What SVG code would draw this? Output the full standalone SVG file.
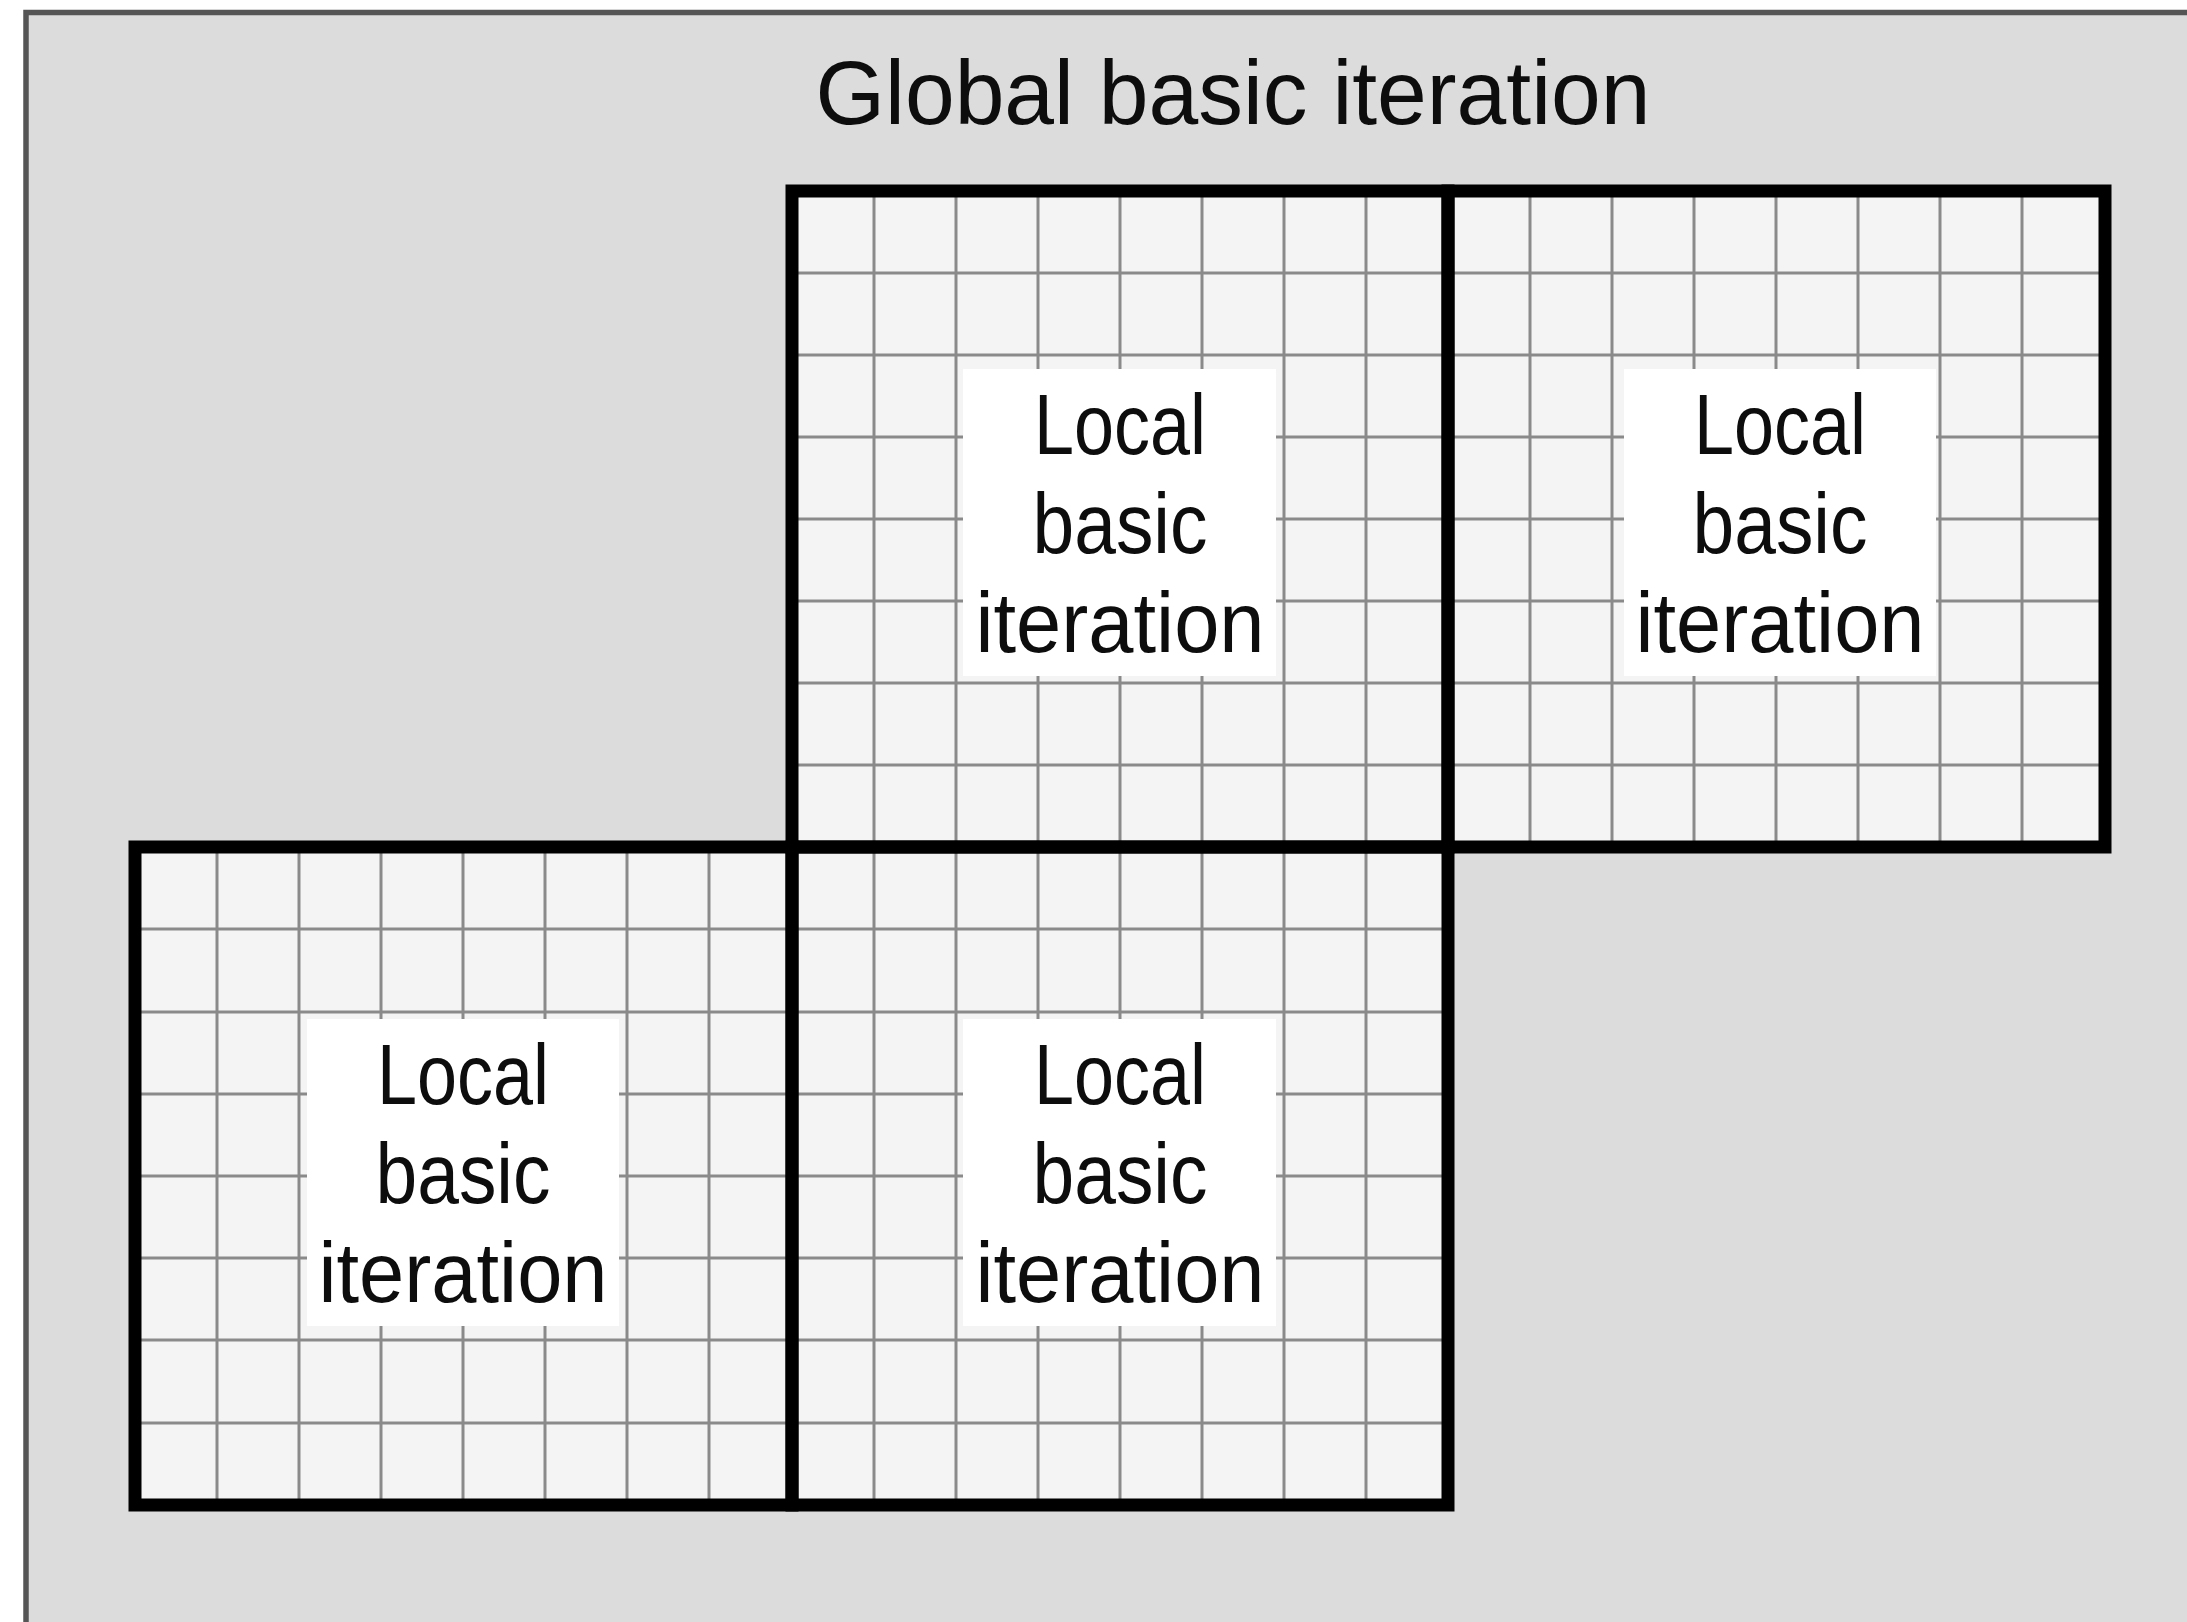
<svg xmlns="http://www.w3.org/2000/svg" width="2187" height="1622" viewBox="0 0 2187 1622">
  <style>
    .frame { fill: #dcdcdc; stroke: #555555; stroke-width: 5.5; }
    .title { font-family: "Liberation Sans", Arial, sans-serif; font-size: 91px; fill: #0d0d0d; text-anchor: middle; }
    .cell { fill: #f4f4f4; }
    .grid { fill: none; stroke: #8a8a8a; stroke-width: 3; }
    .border { fill: none; stroke: #000000; stroke-width: 13; stroke-linejoin: miter; }
    .lbox { fill: #ffffff; }
    .label { font-family: "Liberation Sans", Arial, sans-serif; font-size: 85px; fill: #0d0d0d; text-anchor: middle; }
  </style>

  <rect class="frame" x="26" y="12.5" width="2200" height="1650"/>
  <text id="title" class="title" x="1233" y="124" textLength="835" lengthAdjust="spacingAndGlyphs">Global basic iteration</text>

  <g id="block-top-middle">
    <rect class="cell" x="792" y="191" width="656" height="656"/>
    <path class="grid" d="M874 191V847M956 191V847M1038 191V847M1120 191V847M1202 191V847M1284 191V847M1366 191V847M792 273H1448M792 355H1448M792 437H1448M792 519H1448M792 601H1448M792 683H1448M792 765H1448"/>
    <rect class="lbox" x="963" y="369" width="313" height="307"/>
    <text class="label" x="1120" y="454" textLength="172" lengthAdjust="spacingAndGlyphs">Local</text>
    <text class="label" x="1120" y="553" textLength="175" lengthAdjust="spacingAndGlyphs">basic</text>
    <text class="label" x="1120" y="652" textLength="289" lengthAdjust="spacingAndGlyphs">iteration</text>
  </g>

  <g id="block-top-right">
    <rect class="cell" x="1448" y="191" width="657" height="656"/>
    <path class="grid" d="M1530 191V847M1612 191V847M1694 191V847M1776 191V847M1858 191V847M1940 191V847M2022 191V847M1448 273H2105M1448 355H2105M1448 437H2105M1448 519H2105M1448 601H2105M1448 683H2105M1448 765H2105"/>
    <rect class="lbox" x="1624" y="369" width="312" height="307"/>
    <text class="label" x="1780" y="454" textLength="172" lengthAdjust="spacingAndGlyphs">Local</text>
    <text class="label" x="1780" y="553" textLength="175" lengthAdjust="spacingAndGlyphs">basic</text>
    <text class="label" x="1780" y="652" textLength="289" lengthAdjust="spacingAndGlyphs">iteration</text>
  </g>

  <g id="block-bottom-left">
    <rect class="cell" x="135" y="847" width="657" height="658"/>
    <path class="grid" d="M217 847V1505M299 847V1505M381 847V1505M463 847V1505M545 847V1505M627 847V1505M709 847V1505M135 929H792M135 1012H792M135 1094H792M135 1176H792M135 1258H792M135 1340H792M135 1423H792"/>
    <rect class="lbox" x="307" y="1019" width="312" height="307"/>
    <text class="label" x="463" y="1104" textLength="172" lengthAdjust="spacingAndGlyphs">Local</text>
    <text class="label" x="463" y="1203" textLength="175" lengthAdjust="spacingAndGlyphs">basic</text>
    <text class="label" x="463" y="1302" textLength="289" lengthAdjust="spacingAndGlyphs">iteration</text>
  </g>

  <g id="block-bottom-middle">
    <rect class="cell" x="792" y="847" width="656" height="658"/>
    <path class="grid" d="M874 847V1505M956 847V1505M1038 847V1505M1120 847V1505M1202 847V1505M1284 847V1505M1366 847V1505M792 929H1448M792 1012H1448M792 1094H1448M792 1176H1448M792 1258H1448M792 1340H1448M792 1423H1448"/>
    <rect class="lbox" x="963" y="1019" width="313" height="307"/>
    <text class="label" x="1120" y="1104" textLength="172" lengthAdjust="spacingAndGlyphs">Local</text>
    <text class="label" x="1120" y="1203" textLength="175" lengthAdjust="spacingAndGlyphs">basic</text>
    <text class="label" x="1120" y="1302" textLength="289" lengthAdjust="spacingAndGlyphs">iteration</text>
  </g>

  <g id="borders">
    <rect class="border" x="792" y="191" width="656" height="656"/>
    <rect class="border" x="1448" y="191" width="657" height="656"/>
    <rect class="border" x="135" y="847" width="657" height="658"/>
    <rect class="border" x="792" y="847" width="656" height="658"/>
  </g>
</svg>
